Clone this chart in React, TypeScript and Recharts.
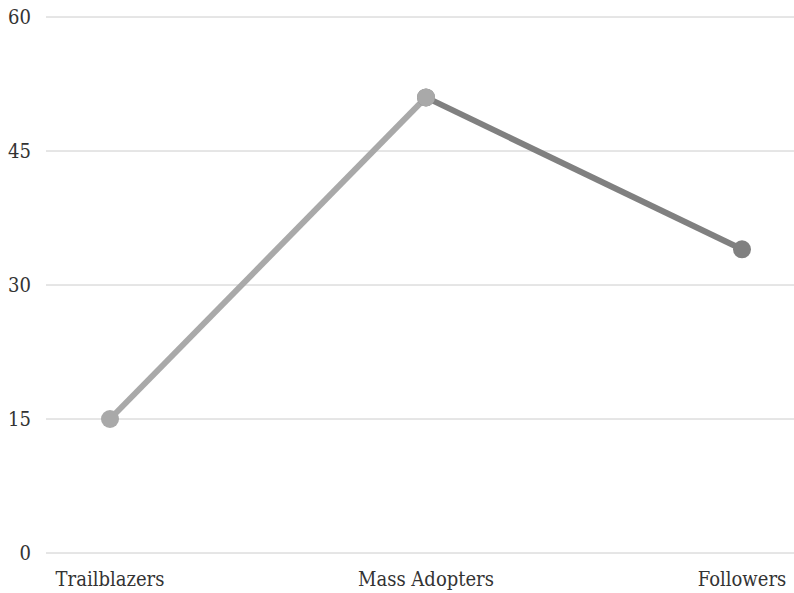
import { LineChart, Line, XAxis, YAxis, CartesianGrid } from 'recharts';

const categories = ['Trailblazers', 'Mass Adopters', 'Followers'];
const values = [15, 51, 34];
const yTicks = [0, 15, 30, 45, 60];

// first leg drawn light, second leg darker; both share the middle point
const data = categories.map((name, i) => ({
  name,
  rise: i <= 1 ? values[i] : null,
  fall: i >= 1 ? values[i] : null,
}));

const LIGHT = '#a9a9a9';
const DARK = '#808080';
const FONT = "'DejaVu Serif Condensed', 'DejaVu Serif', serif";
const tickStyle = { fill: '#333', fontSize: 20, style: { fontFamily: FONT } };

export default function App() {
  return (
    <div style={{ position: 'absolute', left: 0, top: 0, background: '#fff' }}>
      <LineChart width={794} height={593} data={data} margin={{ top: 17, right: 0, left: 0, bottom: 0 }}>
        <CartesianGrid vertical={false} stroke="#cccccc" strokeWidth={1} />
        <XAxis
          dataKey="name"
          height={40}
          axisLine={false}
          tickLine={false}
          tickSize={0}
          tickMargin={19}
          padding={{ left: 64, right: 52 }}
          tick={tickStyle}
          interval={0}
        />
        <YAxis
          domain={[0, 60]}
          ticks={yTicks}
          width={46}
          axisLine={false}
          tickLine={false}
          tickSize={0}
          tickMargin={15}
          tick={tickStyle}
        />
        <Line
          dataKey="fall"
          stroke={DARK}
          strokeWidth={6}
          dot={{ r: 9, fill: DARK, stroke: 'none' }}
          isAnimationActive={false}
        />
        <Line
          dataKey="rise"
          stroke={LIGHT}
          strokeWidth={6}
          dot={{ r: 9, fill: LIGHT, stroke: 'none' }}
          isAnimationActive={false}
        />
      </LineChart>
    </div>
  );
}
